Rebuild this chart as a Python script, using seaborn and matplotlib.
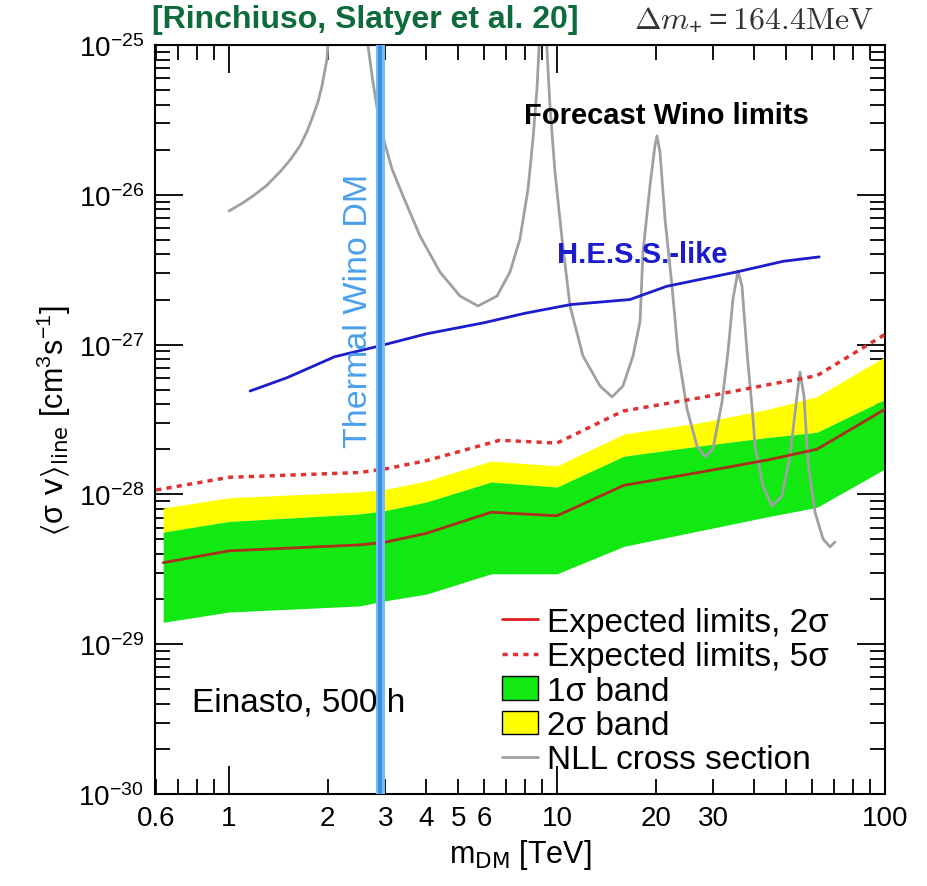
import numpy as np
import seaborn as sns
import matplotlib.pyplot as plt
from matplotlib.lines import Line2D
from matplotlib.patches import Patch
from matplotlib import ticker

# ---- data ----
band_mass = [0.63, 1.0, 2.5, 3.0, 4.0, 6.3, 10.0, 16.0, 27.0, 44.0, 62.0, 100.0]
expected_2sig = [3.5e-29, 4.2e-29, 4.6e-29, 4.8e-29, 5.5e-29, 7.6e-29, 7.2e-29, 1.15e-28, 1.4e-28, 1.7e-28, 2.0e-28, 3.7e-28]
band1_low = [1.4e-29, 1.64e-29, 1.8e-29, 1.95e-29, 2.16e-29, 2.95e-29, 2.95e-29, 4.5e-29, 5.7e-29, 7.1e-29, 8.2e-29, 1.48e-28]
band1_high = [5.6e-29, 6.6e-29, 7.4e-29, 7.8e-29, 8.9e-29, 1.21e-28, 1.12e-28, 1.8e-28, 2.1e-28, 2.4e-28, 2.6e-28, 4.3e-28]
band2_high = [8.1e-29, 9.5e-29, 1.04e-28, 1.08e-28, 1.23e-28, 1.67e-28, 1.55e-28, 2.53e-28, 3.0e-28, 3.7e-28, 4.5e-28, 8.3e-28]

mass_5sig = [0.6, 1.0, 2.5, 3.0, 4.0, 6.7, 10.0, 15.9, 27.0, 44.0, 62.0, 100.0]
expected_5sig = [1.07e-28, 1.3e-28, 1.4e-28, 1.48e-28, 1.68e-28, 2.3e-28, 2.2e-28, 3.6e-28, 4.4e-28, 5.4e-28, 6.2e-28, 1.17e-27]

hess_mass = [1.16, 1.5, 2.1, 2.88, 4.0, 6.0, 8.0, 11.0, 16.7, 21.6, 35.4, 49.0, 63.0]
hess_limit = [4.9e-28, 6.0e-28, 8.3e-28, 9.8e-28, 1.18e-27, 1.4e-27, 1.62e-27, 1.85e-27, 2.0e-27, 2.45e-27, 3.06e-27, 3.6e-27, 3.85e-27]

nll_mass = [1.0, 1.09, 1.184, 1.3, 1.43, 1.54, 1.646, 1.73, 1.804, 1.87, 1.921, 1.99, 2.3, 2.653,
            2.748, 2.847, 2.989, 3.14, 3.393, 3.823, 4.398, 5.062, 5.743, 6.563, 7.19, 7.71, 8.16,
            8.45, 8.69, 8.81, 9.0, 9.32, 9.52, 9.86, 10.36, 10.96, 12.0, 13.53, 14.72, 15.89,
            17.05, 17.91, 18.29, 19.21, 19.89, 20.18, 20.61, 21.35, 22.42, 23.38, 24.91, 26.72,
            28.26, 29.89, 31.85, 33.21, 34.4, 35.63, 36.64, 37.96, 39.6, 40.16, 42.46, 45.24,
            48.53, 51.33, 53.91, 55.07, 56.62, 58.23, 61.18, 64.71, 67.97, 70.4]
nll_xsec = [7.8e-27, 8.7e-27, 9.82e-27, 1.15e-26, 1.42e-26, 1.72e-26, 2.12e-26, 2.65e-26, 3.36e-26,
            4.2e-26, 5.33e-26, 8.06e-26, 1e-23, 0.99e-25,
            5.66e-26, 3.46e-26, 2.18e-26, 1.49e-26, 9.82e-27, 5.31e-27, 3.05e-27, 2.11e-27,
            1.81e-27, 2.11e-27, 3.05e-27, 5.07e-27, 1.09e-26, 2.36e-26, 5.08e-26, 0.94e-25, 1e-23,
            0.94e-25, 3.92e-26, 1.42e-26, 5.07e-27, 1.81e-27, 8.39e-28, 5.29e-28, 4.47e-28,
            5.29e-28, 8.39e-28, 1.42e-27, 4.15e-27, 1.15e-26, 2.12e-26, 2.47e-26, 1.93e-26,
            6.9e-27, 2.46e-27, 8.93e-28, 3.72e-28, 2.1e-28, 1.78e-28, 2.01e-28, 4.14e-28,
            8.93e-28, 2.02e-27, 3.1e-27, 2.46e-27, 8.93e-28, 3.19e-28, 2.1e-28, 1.14e-28,
            8.37e-29, 9.76e-29, 1.8e-28, 4.54e-28, 6.56e-28, 4.54e-28, 1.64e-28, 7.63e-29,
            5.04e-29, 4.46e-29, 4.81e-29]

thermal_wino = 2.88
x_labeled = [0.6, 2, 3, 4, 5, 6, 20, 30]

sns.set_theme(style='ticks')
plt.rcParams['font.family'] = ['Liberation Sans', 'DejaVu Sans']
plt.rcParams['mathtext.default'] = 'regular'
plt.rcParams['axes.linewidth'] = 1.5
for key in ['text.color', 'axes.labelcolor', 'xtick.color', 'ytick.color', 'axes.edgecolor']:
    plt.rcParams[key] = 'black'

fig = plt.figure(figsize=(9.28, 8.87), dpi=100)
ax = fig.add_axes([155 / 928, 1 - 795 / 887, 730 / 928, 749 / 887])
ax.set_xscale('log')
ax.set_yscale('log')
ax.set_xlim(0.595, 100)
ax.set_ylim(1e-30, 1e-25)

green = '#12e812'
yellow = '#ffff00'
ax.fill_between(band_mass, band1_high, band2_high, color=yellow, lw=0, zorder=1)
ax.fill_between(band_mass, band1_low, band1_high, color=green, lw=0, zorder=1)

sns.lineplot(x=band_mass, y=expected_2sig, ax=ax, color='#a8301c', lw=2, sort=False, estimator=None, zorder=3)
sns.lineplot(x=mass_5sig, y=expected_5sig, ax=ax, color='#e03232', lw=2.5, linestyle=(0, (1.5, 1.5)),
             sort=False, estimator=None, zorder=3)
sns.lineplot(x=hess_mass, y=hess_limit, ax=ax, color='#1c1ccc', lw=2, sort=False, estimator=None, zorder=3)
sns.lineplot(x=nll_mass, y=nll_xsec, ax=ax, color='#a0a0a0', lw=2, sort=False, estimator=None, zorder=2)

ax.axvspan(2.80, 2.98, color='#78bdf5', lw=0, zorder=4)
ax.axvline(thermal_wino, color='#3a8fe6', lw=3, zorder=4)

ax.text(2.48, 1.7e-27, 'Thermal Wino DM', rotation=90, color='#4aa0ec', fontsize=24.5,
        ha='center', va='center', zorder=5)
ax.text(21.6, 3.4e-26, 'Forecast Wino limits', fontsize=21, fontweight='bold', ha='center', va='center')
ax.text(18.2, 4.0e-27, 'H.E.S.S.-like', fontsize=21, fontweight='bold', color='#1c1ccc',
        ha='center', va='center')
ax.text(0.771, 4.1e-30, 'Einasto, 500 h', fontsize=24, ha='left', va='center')

fig.text(152 / 928, 1 - 20 / 887, '[Rinchiuso, Slatyer et al. 20]', fontsize=23, fontweight='bold',
         color='#0e6b3b', ha='left', va='center', family=['Liberation Sans Narrow', 'Liberation Sans'])
fig.text(874 / 928, 1 - 20 / 887, r'$\mathrm{\Delta}\mathit{m}_{+} = \mathrm{164.4MeV}$', fontsize=23,
         color='#333333', ha='right', va='center', math_fontfamily='cm')

# ticks
ax.tick_params(which='both', direction='in', top=True, right=True, width=1.3, colors='black')
ax.tick_params(which='major', length=20, labelsize=20, pad=8)
ax.tick_params(which='minor', length=11, labelsize=20, pad=8)
x_major = [1, 10, 100]
x_minor = [0.6, 0.7, 0.8, 0.9] + [k for k in range(2, 10)] + [10 * k for k in range(2, 10)]
y_major = [1e-30, 1e-29, 1e-28, 1e-27, 1e-26, 1e-25]
y_minor = [k * d for d in y_major[:-1] for k in range(2, 10)]
ax.xaxis.set_major_locator(ticker.FixedLocator(x_major))
ax.xaxis.set_minor_locator(ticker.FixedLocator(x_minor))
ax.xaxis.set_major_formatter(ticker.FuncFormatter(lambda v, p: f'{v:g}'))
ax.xaxis.set_minor_formatter(ticker.FuncFormatter(
    lambda v, p: f'{v:g}' if any(abs(v - t) < 1e-6 * t for t in x_labeled) else ''))
ax.yaxis.set_major_locator(ticker.FixedLocator(y_major))
ax.yaxis.set_minor_locator(ticker.FixedLocator(y_minor))
ax.yaxis.set_major_formatter(ticker.LogFormatterMathtext())
ax.yaxis.set_minor_formatter(ticker.NullFormatter())

ax.set_xlabel(r'm$_{\mathrm{DM}}$ [TeV]', fontsize=22, labelpad=4)
ax.set_ylabel(r'$\langle\sigma\ \mathrm{v}\rangle_{\mathrm{line}}$ [cm$^{3}$s$^{-1}$]', fontsize=22, labelpad=4)

handles = [
    Line2D([], [], color='#e02020', lw=2),
    Line2D([], [], color='#e03232', lw=2.5, linestyle=(0, (1.5, 1.5))),
    Patch(facecolor=green, edgecolor='black', lw=1),
    Patch(facecolor=yellow, edgecolor='black', lw=1),
    Line2D([], [], color='#a0a0a0', lw=2),
]
labels = ['Expected limits, 2σ', 'Expected limits, 5σ', '1σ band', '2σ band', 'NLL cross section']
ax.legend(handles, labels, loc='lower left', bbox_to_anchor=(0.475, 0.025), frameon=False,
          fontsize=24, handlelength=1.1, handletextpad=0.25, labelspacing=0.1, borderpad=0,
          borderaxespad=0)

fig.savefig('out.png', dpi=100)
